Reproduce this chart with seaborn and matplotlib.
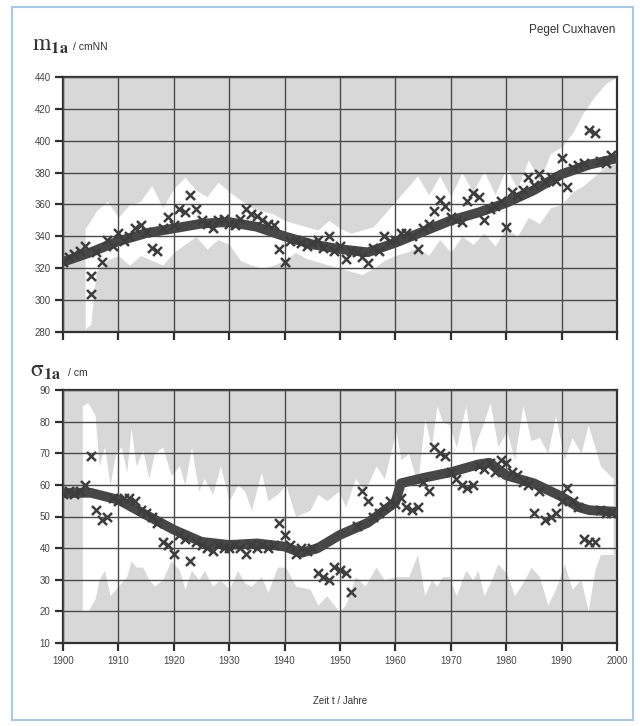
import numpy as np
import pandas as pd
import matplotlib
matplotlib.use("Agg")
import matplotlib.pyplot as plt
import seaborn as sns
from matplotlib.patches import Rectangle

# Jahresmittel m_1a (cmNN)
jahre_m = [1900, 1901, 1902, 1903, 1904, 1905, 1905, 1906, 1907, 1908, 1909,
           1910, 1911, 1912, 1913, 1914, 1915, 1916, 1917, 1918, 1919,
           1920, 1921, 1922, 1923, 1924, 1925, 1926, 1927, 1928, 1929,
           1930, 1931, 1932, 1933, 1934, 1935, 1936, 1937, 1938, 1939,
           1940, 1941, 1942, 1943, 1944, 1945, 1946, 1947, 1948, 1949,
           1950, 1951, 1952, 1953, 1954, 1955, 1956, 1957, 1958, 1959,
           1960, 1961, 1962, 1963, 1964, 1965, 1966, 1967, 1968, 1969,
           1970, 1971, 1972, 1973, 1974, 1975, 1976, 1977, 1978, 1979,
           1980, 1981, 1982, 1983, 1984, 1985, 1986, 1987, 1988, 1989,
           1990, 1991, 1992, 1993, 1994, 1995, 1996, 1997, 1998, 1999]
werte_m = [324, 327, 329, 331, 334, 315, 304, 330, 324, 338, 334,
           342, 337, 340, 345, 347, 343, 333, 331, 345, 352,
           347, 357, 355, 366, 357, 350, 348, 345, 350, 351,
           348, 347, 351, 357, 354, 353, 350, 348, 347, 332,
           324, 337, 338, 336, 334, 336, 338, 333, 340, 331,
           334, 326, 331, 330, 327, 323, 333, 331, 340, 337,
           338, 342, 342, 340, 332, 345, 348, 356, 363, 359,
           352, 350, 349, 362, 367, 365, 350, 357, 359, 362,
           346, 368, 366, 369, 377, 372, 379, 374, 377, 375,
           389, 371, 383, 385, 386, 407, 405, 387, 386, 391]

# geglaetteter Verlauf m_1a
trend_jahre_m = [1900, 1905, 1910, 1915, 1920, 1925, 1930, 1935, 1940, 1945,
                 1950, 1955, 1960, 1965, 1970, 1975, 1980, 1985, 1990, 1995, 2000]
trend_m = [324, 330, 337, 342, 345, 348, 349, 346, 340, 335,
           332, 330, 336, 343, 350, 355, 361, 369, 379, 385, 389]

# Bandbreite (weiss) m_1a
band_jahre_m = [1904, 1905, 1906, 1908, 1910, 1912, 1914, 1916, 1918, 1920,
                1922, 1924, 1926, 1928, 1930, 1932, 1934, 1936, 1938, 1940,
                1942, 1944, 1946, 1948, 1950, 1952, 1954, 1956, 1958, 1960,
                1962, 1964, 1966, 1968, 1970, 1972, 1974, 1976, 1978, 1980,
                1982, 1984, 1986, 1988, 1990, 1992, 1994, 1996, 1998, 2000]
band_unten_m = [282, 285, 318, 325, 328, 322, 328, 325, 322, 330,
                335, 340, 332, 338, 335, 325, 322, 320, 322, 325,
                330, 326, 324, 322, 320, 318, 316, 320, 325, 328,
                330, 333, 328, 338, 330, 340, 335, 342, 334, 345,
                340, 352, 348, 358, 360, 368, 372, 378, 384, 386]
band_oben_m = [345, 350, 356, 362, 352, 360, 362, 372, 358, 370,
               377, 369, 365, 374, 368, 363, 358, 356, 354, 350,
               348, 346, 344, 350, 345, 342, 344, 346, 354, 362,
               370, 378, 366, 378, 365, 380, 368, 381, 366, 383,
               370, 388, 375, 392, 396, 405, 418, 428, 436, 440]

# Standardabweichung sigma_1a (cm)
jahre_s = [1900, 1901, 1902, 1903, 1904, 1905, 1906, 1907, 1908, 1909,
           1910, 1911, 1912, 1913, 1914, 1915, 1916, 1917, 1918, 1919,
           1920, 1921, 1922, 1923, 1924, 1925, 1926, 1927, 1928, 1929,
           1930, 1931, 1932, 1933, 1934, 1935, 1936, 1937, 1938, 1939,
           1940, 1941, 1942, 1943, 1944, 1945, 1946, 1947, 1948, 1949,
           1950, 1951, 1952, 1953, 1954, 1955, 1956, 1957, 1958, 1959,
           1960, 1961, 1962, 1963, 1964, 1965, 1966, 1967, 1968, 1969,
           1970, 1971, 1972, 1973, 1974, 1975, 1976, 1977, 1978, 1979,
           1980, 1981, 1982, 1983, 1984, 1985, 1986, 1987, 1988, 1989,
           1990, 1991, 1992, 1993, 1994, 1995, 1996, 1997, 1998, 1999]
werte_s = [57, 58, 57, 58, 60, 69, 52, 49, 50, 56,
           55, 56, 56, 55, 52, 51, 50, 48, 42, 41,
           38, 44, 43, 36, 42, 41, 40, 39, 41, 40,
           40, 41, 40, 38, 41, 40, 41, 40, 41, 48,
           44, 41, 38, 40, 39, 40, 32, 31, 30, 34,
           33, 32, 26, 47, 58, 55, 50, 51, 53, 55,
           54, 56, 53, 52, 53, 61, 58, 72, 70, 69,
           64, 62, 60, 59, 60, 66, 65, 67, 64, 68,
           67, 64, 63, 61, 60, 51, 58, 49, 50, 51,
           55, 59, 55, 53, 43, 42, 42, 52, 51, 51]

trend_jahre_s = [1900, 1905, 1910, 1915, 1920, 1925, 1930, 1935, 1940, 1943,
                 1946, 1950, 1955, 1960, 1961, 1965, 1970, 1975, 1977, 1980,
                 1985, 1990, 1993, 1995, 2000]
trend_s = [57.4, 57.5, 55.3, 50.5, 45.8, 42, 41, 41.5, 40.5, 38.5,
           40, 44.2, 48, 54.5, 60.5, 62.2, 64, 66.5, 67, 63,
           60.5, 56.3, 53, 52, 51.5]

band_jahre_s = [1903.5, 1904.5, 1905.8, 1906.5, 1907.5, 1908.5, 1909.5, 1910.5, 1911.5, 1912.3,
                1913.2, 1914.4, 1915.5, 1916.5, 1918, 1919.5, 1921, 1922, 1923.2, 1924.5,
                1925.5, 1927, 1928.4, 1930, 1931.5, 1932.8, 1934, 1935.8, 1937, 1938.7,
                1940.2, 1942, 1944.6, 1946, 1947.6, 1949.8, 1951, 1952.8, 1954.5, 1956.5,
                1958, 1960.1, 1961, 1962.4, 1964, 1965.3, 1966.5, 1967.5, 1968.5, 1969.7,
                1971, 1972.7, 1974, 1974.9, 1976, 1977.1, 1978.5, 1980.1, 1981.5, 1983,
                1984.5, 1986, 1987.5, 1988.9, 1990.5, 1991.9, 1993.5, 1994.8, 1996, 1997,
                1999.3]
band_oben_s = [85, 86, 82, 66, 72, 60, 70, 72, 64, 78,
               66, 71, 62, 70, 72, 63, 66, 60, 72, 58,
               62, 57, 66, 55, 60, 58, 52, 64, 55, 57,
               60, 50, 52, 57, 55, 58, 53, 62, 58, 66,
               62, 77, 68, 70, 60, 81, 72, 85, 80, 79,
               72, 85, 70, 75, 80, 86, 72, 77, 68, 85,
               74, 75, 70, 82, 68, 75, 70, 79, 72, 66,
               62]
band_unten_s = [20, 20, 24, 30, 33, 25, 27, 29, 31, 36,
                34, 34, 30, 28, 30, 36, 33, 27, 33, 30,
                33, 28, 30, 27, 33, 29, 28, 31, 26, 34,
                34, 28, 27, 22, 25, 20, 22, 31, 28, 34,
                30, 31, 31, 31, 38, 25, 30, 28, 31, 31,
                25, 33, 30, 33, 25, 29, 35, 32, 25, 29,
                34, 31, 22, 27, 35, 27, 30, 20, 33, 38,
                38]

x_ticks = list(range(1900, 2001, 10))

sns.set_theme(style="ticks")
plt.rcParams["font.family"] = ["Liberation Sans", "DejaVu Sans"]
plt.rcParams["mathtext.fontset"] = "stix"

grau = "#d8d8d8"
dunkel = "#3d3d3d"
gitter = "#4a4a4a"

fig = plt.figure(figsize=(6.4, 7.26), dpi=100)
fig.patch.set_facecolor("white")
ax1 = fig.add_axes([63 / 640, 1 - 332 / 726, 554 / 640, 255 / 726])
ax2 = fig.add_axes([63 / 640, 1 - 643 / 726, 554 / 640, 253 / 726])


def panel(ax, bj, bu, bo, tj, tw, jj, ww, ylim, yticks):
    ax.set_facecolor(grau)
    ax.fill_between(bj, bu, bo, color="white", lw=0, zorder=1)
    sns.lineplot(x=tj, y=tw, ax=ax, color="#474747", lw=7,
                 solid_capstyle="butt", zorder=3)
    sns.scatterplot(x=jj, y=ww, ax=ax, marker="x", s=42, color=dunkel,
                    linewidth=1.8, zorder=4)
    ax.set_xlim(1900, 2000)
    ax.set_ylim(*ylim)
    ax.set_xticks(x_ticks)
    ax.set_yticks(yticks)
    ax.grid(True, color=gitter, lw=1.0, zorder=2)
    ax.set_axisbelow(False)
    for sp in ax.spines.values():
        sp.set_visible(True)
        sp.set_color("#2e2e2e")
        sp.set_linewidth(1.6)
    ax.tick_params(direction="out", length=6, width=1.6, color="#2e2e2e",
                   labelsize=7, labelcolor="#444444", pad=3)
    ax.set_xlabel("")
    ax.set_ylabel("")


panel(ax1, band_jahre_m, band_unten_m, band_oben_m, trend_jahre_m, trend_m,
      jahre_m, werte_m, (280, 440), list(range(280, 441, 20)))
ax1.set_xticklabels([])

panel(ax2, band_jahre_s, band_unten_s, band_oben_s, trend_jahre_s, trend_s,
      jahre_s, werte_s, (10, 90), list(range(10, 91, 10)))
ax2.set_xticklabels([str(t) for t in x_ticks])

fig.text(615 / 640, 1 - 30 / 726, "Pegel Cuxhaven", ha="right", va="center",
         fontsize=8.5, color="#333333")
fig.text(32 / 640, 1 - 45 / 726, r"$\mathrm{m}_{\mathbf{1a}}$", ha="left",
         va="center", fontsize=17, color="#333333")
fig.text(73 / 640, 1 - 47 / 726, "/ cmNN", ha="left", va="center",
         fontsize=7.5, color="#333333")
fig.text(30 / 640, 1 - 371 / 726, r"$\mathrm{\sigma}_{\mathbf{1a}}$", ha="left",
         va="center", fontsize=17, color="#333333")
fig.text(68 / 640, 1 - 373 / 726, "/ cm", ha="left", va="center",
         fontsize=7.5, color="#333333")
fig.text(340 / 640, 1 - 701 / 726, "Zeit t / Jahre", ha="center", va="center",
         fontsize=7, color="#333333")

fig.patches.append(Rectangle((12 / 640, 1 - 720 / 726), 621 / 640, 713 / 726,
                             transform=fig.transFigure, fill=False,
                             edgecolor="#a9c9e2", lw=1.5))

fig.savefig("out.png", dpi=100)
